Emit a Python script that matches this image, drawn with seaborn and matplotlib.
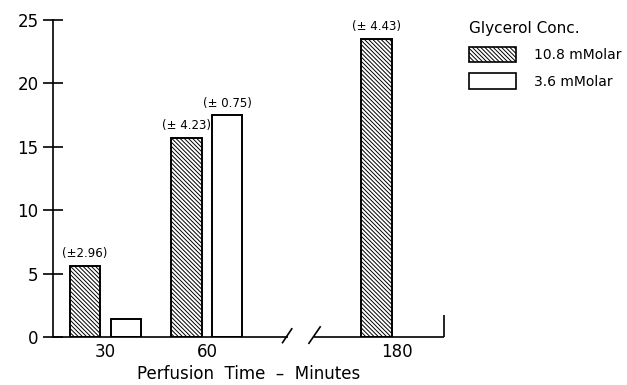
import numpy as np
import pandas as pd
import matplotlib
matplotlib.use("Agg")
import matplotlib.pyplot as plt
from matplotlib.patches import Patch
import seaborn as sns

# perfusion times, plotted on a broken axis
times = ["30", "60", "180"]
positions = [0.0, 1.0, 2.87]

levels = ["10.8 mMolar", "3.6 mMolar"]
high_vals = [5.6, 15.7, 23.5]
low_vals = [1.4, 17.5, np.nan]
high_sem = ["(\u00b12.96)", "(\u00b1 4.23)", "(\u00b1 4.43)"]
low_sem = ["", "(\u00b1 0.75)", ""]

df = pd.DataFrame({
    "pos": positions * 2,
    "value": high_vals + low_vals,
    "conc": [levels[0]] * 3 + [levels[1]] * 3,
    "sem": high_sem + low_sem,
}).dropna()

sns.set_style("ticks")
plt.rcParams["font.family"] = ["DejaVu Sans"]
plt.rcParams["hatch.linewidth"] = 0.7
for k in ["text.color", "axes.labelcolor", "xtick.color", "ytick.color", "axes.edgecolor"]:
    plt.rcParams[k] = "black"

hatch = "\\" * 8

fig = plt.figure(figsize=(6.27, 3.85), dpi=100)
ax = fig.add_axes([0.0845, 0.1247, 0.6236, 0.8234])

sns.barplot(data=df, x="pos", y="value", hue="conc", hue_order=levels,
            native_scale=True, width=0.8, gap=0.25,
            palette=["white", "white"], edgecolor="black", linewidth=1.4,
            legend=False, ax=ax)

for patch in ax.containers[0]:
    patch.set_hatch(hatch)

for cont, conc in zip(ax.containers, levels):
    sub = df[df["conc"] == conc]
    for patch, lab in zip(cont, sub["sem"]):
        if lab:
            ax.annotate(lab, (patch.get_x() + patch.get_width() / 2, patch.get_height()),
                        xytext=(0, 4), textcoords="offset points",
                        ha="center", va="bottom", fontsize=8.5)

ax.set_xlim(-0.517, 3.335)
ax.set_ylim(0, 25)
ax.set_yticks([0, 5, 10, 15, 20, 25])
ax.set_xticks(positions)
ax.set_xticklabels(times)
ax.tick_params(axis="y", direction="inout", length=15, width=1.2, labelsize=12, pad=3)
ax.tick_params(axis="x", length=0, labelsize=12, pad=4)
ax.set_ylabel("")
ax.set_xlabel("Perfusion  Time  \u2013  Minutes", fontsize=12, labelpad=3)

for s in ["top", "right", "bottom"]:
    ax.spines[s].set_visible(False)
ax.spines["left"].set_linewidth(1.2)

# broken x axis
kw = dict(color="black", lw=1.2, clip_on=False, solid_capstyle="butt")
ax.plot([-0.517, 1.80], [0, 0], **kw)
ax.plot([2.05, 3.335], [0, 0], **kw)
ax.plot([3.335, 3.335], [0, 1.7], **kw)
ax.plot([1.74, 1.84], [-0.5, 0.7], **kw)
ax.plot([2.0, 2.12], [-0.55, 0.85], **kw)

handles = [Patch(facecolor="white", edgecolor="black", hatch=hatch, lw=1.2),
           Patch(facecolor="white", edgecolor="black", lw=1.2)]
fig.legend(handles, levels, title="Glycerol Conc.", loc="upper left",
           bbox_to_anchor=(462 / 627, 1 - 14 / 385), frameon=False,
           fontsize=10, title_fontsize=11, handlelength=3.4, handleheight=1.3,
           handletextpad=1.3, labelspacing=0.8, borderpad=0, alignment="left")

fig.savefig("out.png", dpi=100)
